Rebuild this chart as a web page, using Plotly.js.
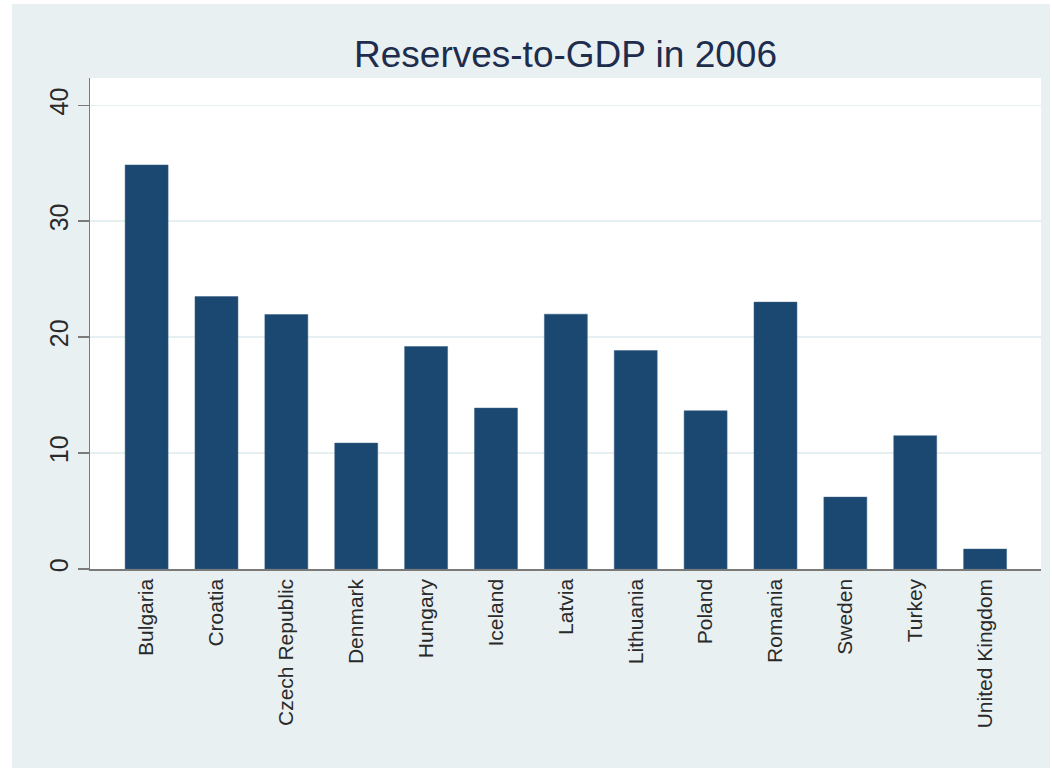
<!DOCTYPE html>
<html>
<head>
<meta charset="utf-8">
<script src="https://cdn.plot.ly/plotly-3.0.1.min.js"></script>
<style>
html, body { margin:0; padding:0; background:#ffffff; width:1052px; height:770px; overflow:hidden; }
#chart { position:absolute; left:12px; top:4px; width:1038px; height:764px; }
</style>
</head>
<body>
<div id="chart"></div>
<script>
const countries = ["Bulgaria","Croatia","Czech Republic","Denmark","Hungary","Iceland","Latvia","Lithuania","Poland","Romania","Sweden","Turkey","United Kingdom"];
const reservesToGDP = [34.85, 23.5, 21.95, 10.86, 19.19, 13.88, 21.98, 18.84, 13.65, 23.02, 6.2, 11.5, 1.72];
const yTicks = [0, 10, 20, 30, 40];

const trace = {
  type: 'bar',
  x: countries,
  y: reservesToGDP,
  width: 0.615,
  marker: { color: '#1b4870', line: { color: '#3a6185', width: 0.5 } },
  hoverinfo: 'x+y'
};

const layout = {
  width: 1038, height: 764,
  paper_bgcolor: '#e9f0f2',
  plot_bgcolor: '#ffffff',
  margin: { l: 78, r: 9, t: 74, b: 199 },
  font: { family: 'Liberation Sans, Arial, sans-serif', color: '#222222' },
  title: {
    text: 'Reserves-to-GDP in 2006',
    font: { size: 37, color: '#1e2d4d', family: 'Liberation Sans, Arial, sans-serif' },
    xref: 'paper', x: 0.5, xanchor: 'center',
    yref: 'container', y: 0.935, yanchor: 'middle'
  },
  showlegend: false,
  xaxis: {
    type: 'category',
    range: [-0.81, 12.8],
    showline: true, linecolor: '#7a7a7a', linewidth: 1.5,
    ticks: '', tickangle: -90,
    tickfont: { size: 21, color: '#2a2a2a' },
    showgrid: false, zeroline: false
  },
  yaxis: {
    range: [0, 42.35],
    tickvals: yTicks,
    ticktext: yTicks.map(String),
    tickangle: -90,
    tickfont: { size: 25, color: '#2a2a2a' },
    ticks: 'outside', ticklen: 11, tickcolor: '#7a7a7a', tickwidth: 1.5,
    showline: true, linecolor: '#7a7a7a', linewidth: 1.5,
    showgrid: true, gridcolor: '#e6eff1', gridwidth: 1.5,
    zeroline: false
  }
};

Plotly.newPlot('chart', [trace], layout, { displayModeBar: false, staticPlot: true });
</script>
</body>
</html>
